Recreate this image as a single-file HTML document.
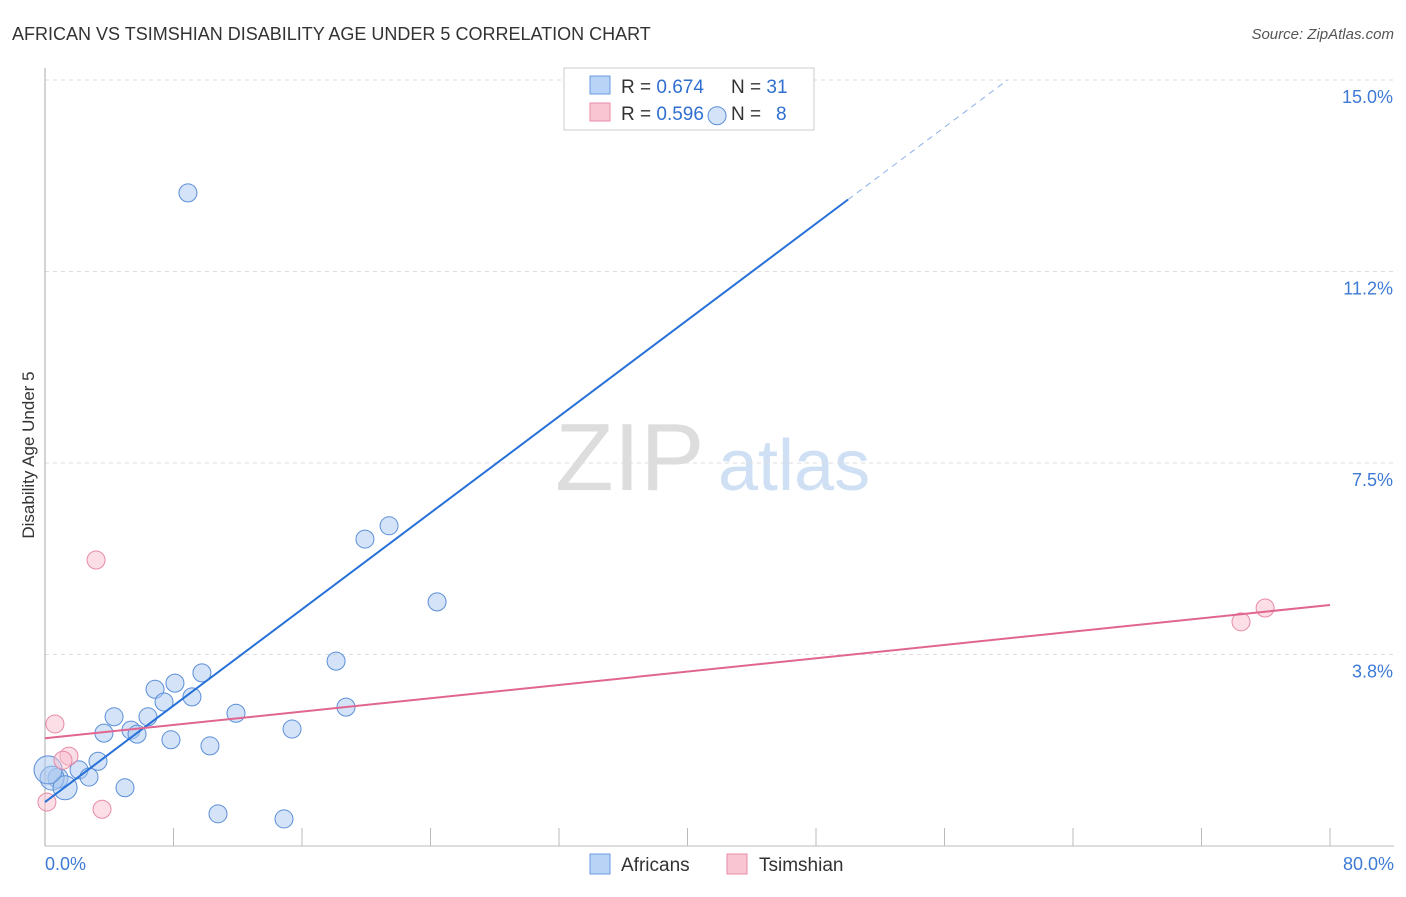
<!DOCTYPE html>
<html><head><meta charset="utf-8"><style>
body{margin:0;background:#fff;font-family:"Liberation Sans",sans-serif}
svg text{font-family:"Liberation Sans",sans-serif}
</style></head><body>
<svg id="chart" width="1406" height="892">
<text x="12" y="40" font-size="18" fill="#333">AFRICAN VS TSIMSHIAN DISABILITY AGE UNDER 5 CORRELATION CHART</text>
<text x="1394" y="39" font-size="15" fill="#555" font-style="italic" text-anchor="end">Source: ZipAtlas.com</text>
<text transform="translate(34,455) rotate(-90)" font-size="17" fill="#333" text-anchor="middle">Disability Age Under 5</text>
<text x="555" y="490" font-size="96" fill="#ddd" font-family="Liberation Serif">ZIP</text>
<text x="718" y="490" font-size="72" fill="#cfe0f5">atlas</text>
<g id="grid"></g>
<g>
<rect x="564" y="68" width="250" height="62" fill="#fff" stroke="#ccc"/>
<rect x="590" y="76" width="20" height="18" fill="#b8d3f5" stroke="#6a9be0"/>
<rect x="590" y="103" width="20" height="18" fill="#f9c5d3" stroke="#e88aa5"/>
<text x="621" y="93" font-size="19" fill="#333">R = <tspan fill="#2f6fd0">0.674</tspan></text>
<text x="731" y="93" font-size="19" fill="#333">N = <tspan fill="#2f6fd0">31</tspan></text>
<text x="621" y="120" font-size="19" fill="#333">R = <tspan fill="#2f6fd0">0.596</tspan></text>
<text x="731" y="120" font-size="19" fill="#333">N = </text>
<text x="776" y="120" font-size="19" fill="#2f6fd0">8</text>
</g>
<g id="marks"></g>
<g>
<rect x="590" y="854" width="20" height="20" fill="#b8d3f5" stroke="#6a9be0"/>
<text x="621" y="871" font-size="19" fill="#333">Africans</text>
<rect x="727" y="854" width="20" height="20" fill="#f9c5d3" stroke="#e88aa5"/>
<text x="759" y="871" font-size="19" fill="#333">Tsimshian</text>
</g>
</svg>
<script>
const yTicks=[3.75,7.5,11.25,15];
const yTickLabels=["3.8%","7.5%","11.2%","15.0%"];
const xTickLabels=["0.0%","80.0%"];
const africansX=[8.90,41.84,21.42,19.92,24.41,18.12,18.74,9.77,8.09,6.85,7.41,9.15,6.41,4.30,11.89,3.67,5.35,5.73,7.84,10.27,15.38,3.30,2.12,2.74,0.81,0.44,1.25,4.98,10.77,14.88,0.19];
const africansY=[12.79,14.30,6.27,6.01,4.78,3.62,2.72,3.39,3.19,3.07,2.82,2.92,2.53,2.53,2.60,2.21,2.27,2.19,2.08,1.96,2.29,1.66,1.49,1.35,1.33,1.33,1.14,1.14,0.63,0.53,1.49];
const africansR=[9,9,9,9,9,9,9,9,9,9,9,9,9,9,9,9,9,9,9,9,9,9,9,9,10,12,12,9,9,9,14];
const tsimX=[3.18,0.62,1.49,1.12,3.55,0.12,74.46,75.96];
const tsimY=[5.60,2.39,1.76,1.68,0.72,0.86,4.39,4.66];
const blueLine=[0.86,0.236];
const pinkLine=[2.11,4.72];
const X=v=>45+v/80*1285, Y=v=>846-v/3.75*191.5;
const NS="http://www.w3.org/2000/svg";
const grid=document.getElementById('grid'),marks=document.getElementById('marks');
function mk(tag,attrs,parent){const e=document.createElementNS(NS,tag);for(const k in attrs)e.setAttribute(k,attrs[k]);parent.appendChild(e);return e;}
yTicks.forEach((t,i)=>{
 const l=mk('line',{x1:45,x2:1394,y1:Y(t),y2:Y(t),stroke:'#ddd','stroke-dasharray':'4,4'},grid);
 
 
 const tx=mk('text',{x:1393,y:Y(t)+23,'font-size':18,fill:'#3d7ad6','text-anchor':'end'},grid);
 tx.textContent=yTickLabels[i];
 
 
});
const ax=mk('line',{x1:45,x2:45,y1:68,y2:846,stroke:'#aaa'},grid);


const bx=mk('line',{x1:45,x2:1394,y1:846,y2:846,stroke:'#bbb'},grid);


for(let v=8;v<=80;v+=8){
 const t=mk('line',{x1:X(v),x2:X(v),y1:828,y2:846,stroke:'#bbb'},grid);
 
 
}
[[0,'start',45],[80,'end',1394]].forEach((a,i)=>{
 const t=mk('text',{x:a[2],y:870,'font-size':18,fill:'#3d7ad6','text-anchor':a[1]},grid);
 t.textContent=xTickLabels[i];
 
 
});
africansX.forEach((x,i)=>{
 const c=mk('circle',{cx:X(x),cy:Y(africansY[i]),r:africansR[i],fill:'rgba(170,200,240,0.5)',stroke:'#5b8fd8','stroke-width':1},marks);
 
 
});
tsimX.forEach((x,i)=>{
 const c=mk('circle',{cx:X(x),cy:Y(tsimY[i]),r:9,fill:'rgba(248,190,205,0.5)',stroke:'#e88aa5','stroke-width':1},marks);
 
 
});
const bxEnd=50;
const b1=mk('line',{x1:X(0),y1:Y(blueLine[0]),x2:X(bxEnd),y2:Y(blueLine[0]+blueLine[1]*bxEnd),stroke:'#2670d8','stroke-width':2},marks);


const xd=(15-blueLine[0])/blueLine[1];
const b2=mk('line',{x1:X(bxEnd),y1:Y(blueLine[0]+blueLine[1]*bxEnd),x2:X(xd),y2:Y(15),stroke:'#8ab0e8','stroke-width':1,'stroke-dasharray':'6,5'},marks);


const p=mk('line',{x1:X(0),y1:Y(pinkLine[0]),x2:X(80),y2:Y(pinkLine[1]),stroke:'#e06690','stroke-width':2},marks);


</script>
</body></html>
